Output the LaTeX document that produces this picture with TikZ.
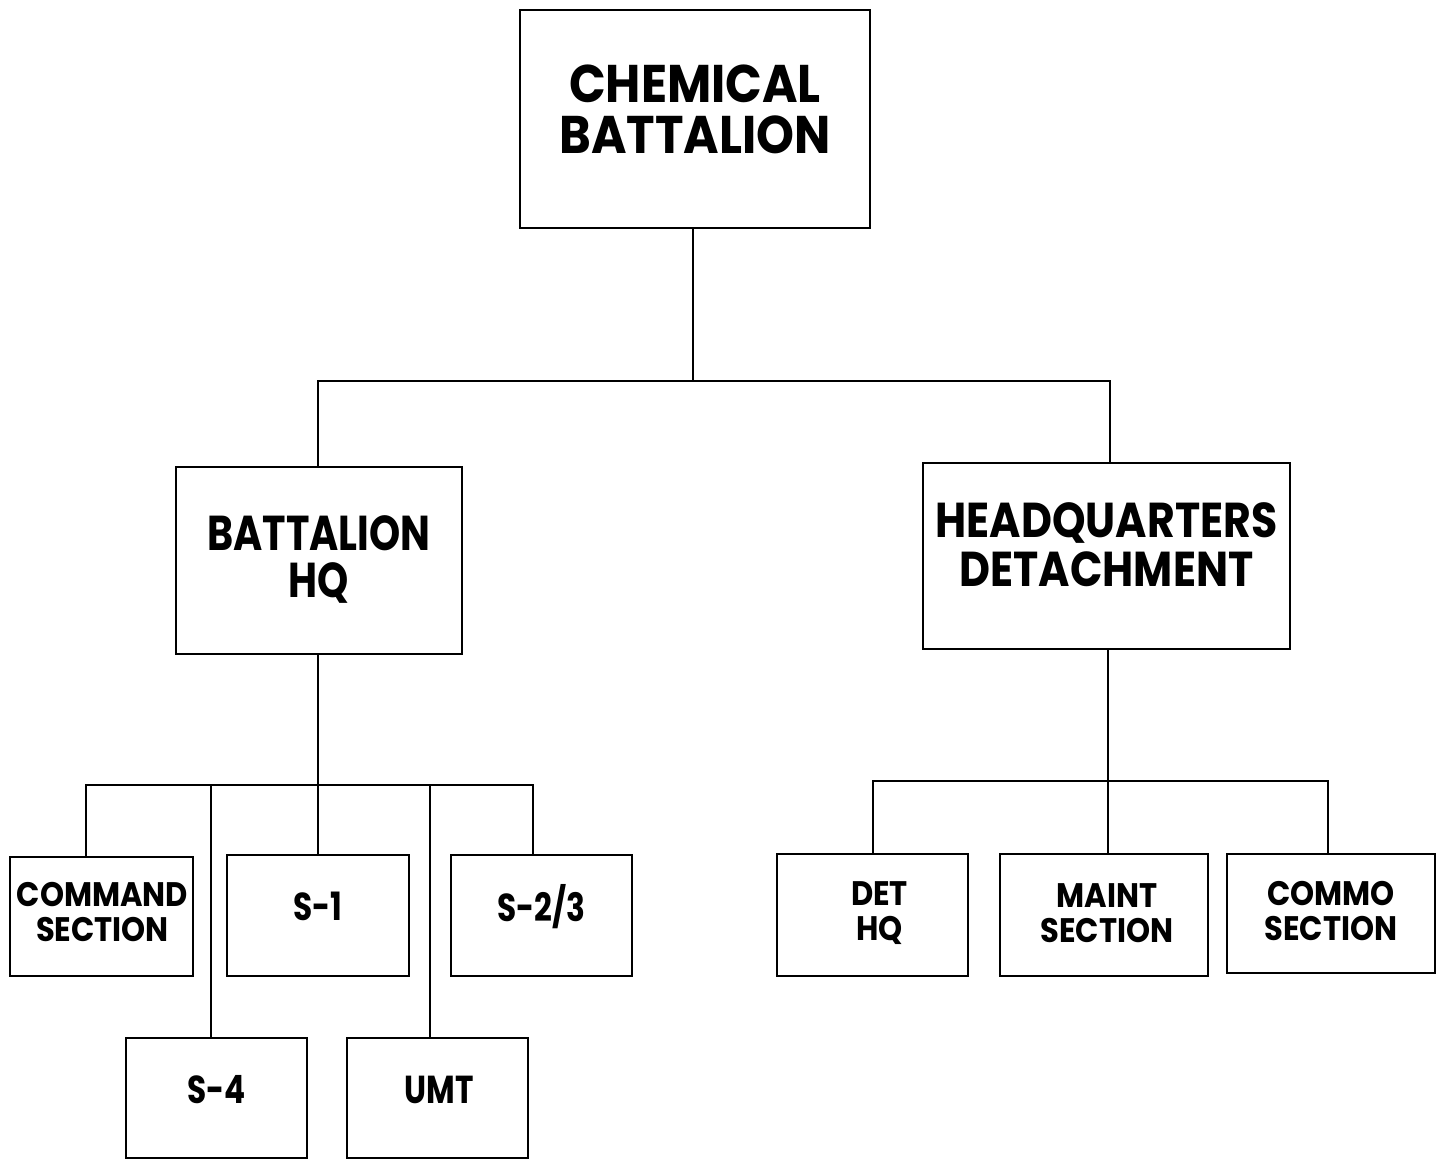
\documentclass[tikz,border=0pt]{standalone}
\usepackage{fontspec}
\setmainfont{Poppins}[FakeStretch=0.8]
\newfontfamily\stretchA{Poppins}[FakeStretch=0.91]
\newfontfamily\stretchB{Poppins}[FakeStretch=0.81]
\newfontfamily\stretchC{Poppins}[FakeStretch=0.87]
\newfontfamily\stretchD{Poppins}[FakeStretch=0.9]
\begin{document}
\begin{tikzpicture}[x=1pt,y=-1pt,
  unit/.style={draw=black,line width=2pt,rectangle,inner sep=0pt},
  label text/.style={inner sep=0pt,align=center},
  big/.style={label text,font=\stretchA\fontsize{53}{51}\selectfont\bfseries},
  mid/.style={label text,font=\stretchB\fontsize{49}{47}\selectfont\bfseries},
  midwide/.style={label text,font=\stretchC\fontsize{49}{49}\selectfont\bfseries},
  small/.style={label text,font=\stretchD\fontsize{34}{35}\selectfont\bfseries},
  single/.style={label text,font=\fontsize{39}{39}\selectfont\bfseries},
  link/.style={line width=2pt}]
\useasboundingbox[fill=white] (0,0) rectangle (1442,1161);
% boxes
\node[unit,minimum width=350pt,minimum height=218pt] (chem) at (695,119) {};
\node[unit,minimum width=286pt,minimum height=187pt] (bhq) at (319,560.5) {};
\node[unit,minimum width=367pt,minimum height=186pt] (hqd) at (1106.5,556) {};
\node[unit,minimum width=183pt,minimum height=119pt] (cmd) at (101.5,916.5) {};
\node[unit,minimum width=182pt,minimum height=121pt] (s1) at (318,915.5) {};
\node[unit,minimum width=181pt,minimum height=121pt] (s23) at (541.5,915.5) {};
\node[unit,minimum width=181pt,minimum height=120pt] (s4) at (216.5,1098) {};
\node[unit,minimum width=181pt,minimum height=120pt] (umt) at (437.5,1098) {};
\node[unit,minimum width=191pt,minimum height=122pt] (dethq) at (872.5,915) {};
\node[unit,minimum width=208pt,minimum height=122pt] (maint) at (1104,915) {};
\node[unit,minimum width=208pt,minimum height=119pt] (commo) at (1331,913.5) {};
% texts
\node[big] (chemT) at ([yshift=10pt]chem.center) {CHEMICAL\\BATTALION};
\node[mid] (bhqT) at ([yshift=1pt]bhq.center) {BATTALION\\HQ};
\node[midwide] (hqdT) at ([yshift=11pt]hqd.center) {HEADQUARTERS\\DETACHMENT};
\node[small] (cmdT) at ([xshift=1pt,yshift=4pt]cmd.center) {COMMAND\\SECTION};
\node[single] (s1T) at ([yshift=9pt]s1.center) {S-1};
\node[single] (s23T) at ([yshift=9pt]s23.center) {S-2/3};
\node[single] (s4T) at ([yshift=8pt]s4.center) {S-4};
\node[single] (umtT) at ([xshift=2pt,yshift=8pt]umt.center) {UMT};
\node[small] (dethqT) at ([xshift=7pt,yshift=2pt]dethq.center) {DET\\HQ};
\node[small] (maintT) at ([xshift=3pt,yshift=2pt]maint.center) {MAINT\\SECTION};
\node[small] (commoT) at ([yshift=2pt]commo.center) {COMMO\\SECTION};
% junctions
\coordinate (j1) at (693,381);
\coordinate (j2) at (318,785);
\coordinate (j3) at (1108,781);
% connectors
\draw[link] ([xshift=-2pt]chem.south) -- (j1);
\draw[link] ([xshift=-1pt]bhq.north) |- (j1) -| ([xshift=3.5pt]hqd.north);
\draw[link] ([xshift=-1pt]bhq.south) -- (j2);
\draw[link] (j2) -| ([xshift=-15.5pt]cmd.north);
\draw[link] (j2) -| ([xshift=-8.5pt]s23.north);
\draw[link] (j2) -- (s1.north);
\draw[link] ([xshift=-107pt]j2) -- ([xshift=-5.5pt]s4.north);
\draw[link] ([xshift=112pt]j2) -- ([xshift=-7.5pt]umt.north);
\draw[link] ([xshift=1.5pt]hqd.south) -- (j3);
\draw[link] (j3) -| (dethq.north);
\draw[link] (j3) -| ([xshift=-3pt]commo.north);
\draw[link] (j3) -- ([xshift=4pt]maint.north);
\end{tikzpicture}
\end{document}
